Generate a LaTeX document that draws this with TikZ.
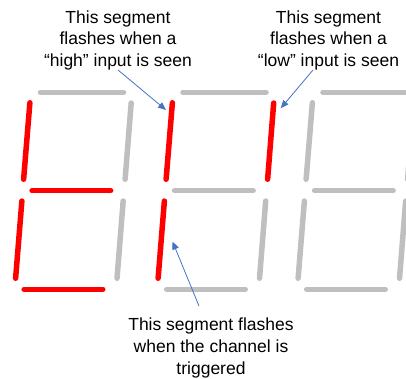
\documentclass[tikz,border=0pt]{standalone}
\usepackage{fontspec}
\setmainfont{Liberation Sans}
\usetikzlibrary{arrows.meta}
\definecolor{segred}{HTML}{FF0000}
\definecolor{seggrey}{HTML}{BFBFBF}
\definecolor{arrblue}{HTML}{4472C4}
\tikzset{
  seg/.style={line width=5.5pt, line cap=round, shorten <=2.75pt, shorten >=2.75pt},
  on/.style={seg, draw=segred},
  off/.style={seg, draw=seggrey},
  lbl/.style={align=center, inner sep=0pt, anchor=north, font=\fontsize{17.5}{21.6}\selectfont},
  callout/.style={draw=arrblue, line width=0.8pt, -{Triangle[length=8pt,width=6.5pt]}}
}
\begin{document}
\begin{tikzpicture}[x=1pt,y=-1pt]
\useasboundingbox (0,0) rectangle (406,379);
\clip (0,0) rectangle (406,379);
% digit template: #1 offset, colours for top, UL, UR, M, LL, LR, B
\foreach \dx/\ct/\cul/\cur/\cm/\cll/\clr/\cb in {
   0/off/on/off/on/on/off/on,
   142.5/off/on/on/off/on/off/off,
   282.5/off/off/off/off/off/off/off} {
  \begin{scope}[xshift=\dx]
    \draw[\ct]  (37.7,92.3)  -- (126.3,92.3);
    \draw[\cul] (30.1,100)   -- (23.4,182);
    \draw[\cur] (131.4,100.3)-- (124.9,182);
    \draw[\cm]  (29.3,190.7) -- (113.4,190.7);
    \draw[\cll] (22.1,198.3) -- (15.4,281);
    \draw[\clr] (123.4,198.3)-- (116.8,281);
    \draw[\cb]  (21.4,289.3) -- (105.5,289.3);
  \end{scope}
}
\node[lbl] (high) at (118,10.2) {This segment\\flashes when a\\“high” input is seen};
\node[lbl] (low) at (328.5,10.2) {This segment\\flashes when a\\“low” input is seen};
\node[lbl] (trig) at (211,318) {This segment flashes\\when the channel is\\triggered};
\coordinate (hightail) at (118,70);
\coordinate (hightip) at (166,110);
\coordinate (lowtail) at (313,70);
\coordinate (lowtip) at (280.7,108.3);
\coordinate (trigtail) at (199,306);
\coordinate (trigtip) at (172.5,241.5);
\draw[callout] (hightail) -- (hightip);
\draw[callout] (lowtail) -- (lowtip);
\draw[callout] (trigtail) -- (trigtip);
\end{tikzpicture}
\end{document}
